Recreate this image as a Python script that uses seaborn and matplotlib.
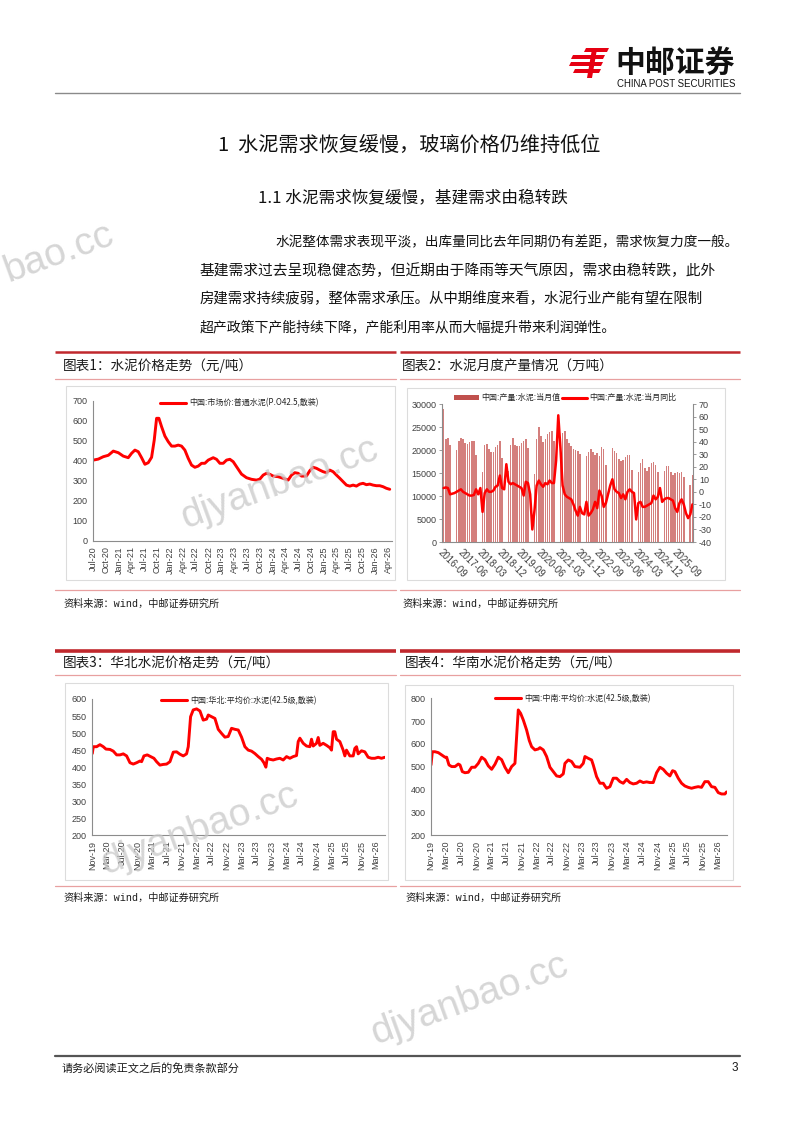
import numpy as np
import pandas as pd
import matplotlib
matplotlib.use("Agg")
import matplotlib.pyplot as plt
import matplotlib.dates as mdates
from matplotlib.lines import Line2D
from matplotlib.patches import Patch, Polygon, Rectangle
import seaborn as sns

# ------------------------------------------------------------------ data
# Chart 1: national market price, months since 2020-07-01
c1_start = "2020-07-01"
c1_t = [0, 1.17, 2.34, 3.51, 4.68, 5.85, 7.01, 8.18, 8.96, 9.74, 10.52, 11.30, 12.08,
        12.86, 13.64, 14.26, 14.81, 15.35, 15.98, 16.76, 17.54, 18.32, 19.10, 19.88,
        20.65, 21.43, 22.21, 22.99, 23.77, 24.55, 25.33, 26.11, 26.89, 28.06, 28.84,
        29.62, 30.40, 31.18, 31.96, 32.74, 33.52, 34.68, 35.85, 37.02, 38.19, 38.97,
        39.75, 40.53, 41.31, 42.09, 43.26, 44.43, 45.60, 46.38, 47.16, 47.93, 48.71,
        49.88, 50.66, 51.44, 52.22, 53.00, 53.78, 54.56, 55.34, 56.12, 56.90, 57.68,
        58.46, 59.24, 60.02, 60.80, 61.57, 62.35, 63.13, 63.91, 64.69, 65.47, 66.25,
        67.03, 67.81, 68.59, 69.37]
c1_price = [403, 408, 420, 427, 448, 440, 423, 415, 437, 453, 445, 415, 382,
            390, 417, 503, 612, 612, 570, 523, 495, 473, 473, 478,
            473, 453, 412, 378, 367, 373, 387, 387, 403, 415, 407,
            387, 387, 403, 407, 395, 370, 333, 315, 307, 303, 308,
            328, 337, 332, 323, 320, 312, 303, 328, 340, 337, 323,
            323, 350, 367, 362, 353, 345, 340, 353, 345, 328, 312,
            295, 278, 273, 278, 273, 283, 287, 280, 283, 278, 275,
            275, 270, 262, 257]
c1_label = "中国:市场价:普通水泥(P.O42.5,散装)"

# Chart 2: monthly output (万吨) and YoY (%), monthly from 2016-09 (Jan/Feb not published)
nan = np.nan
c2_output = [29000, 22500, 22700, 21000,
             nan, nan, 20000, 22000, 22600, 22300, 21600, 21200, 21800, 22000, 22000, 19000,
             nan, nan, 15300, 21000, 21300, 20300, 19600, 19600, 20600, 21000, 22000, 18200,
             nan, nan, 15500, 21000, 22700, 21000, 20900, 20900, 21500, 21900, 22300, 20500,
             nan, nan, 14700, 22400, 24900, 23000, 21800, 22300, 23500, 24000, 24200, 22000,
             nan, nan, 20300, 23800, 24200, 22500, 21500, 20800, 20300, 20100, 19800, 19100,
             nan, nan, 18600, 19500, 20200, 19500, 19000, 19300, 18800, 20700, 20300, 16800,
             nan, nan, 20500, 19800, 19300, 18000, 17600, 17800, 18500, 19000, 19000, 15600,
             nan, nan, 15300, 17200, 18000, 16000, 15500, 16400, 17100, 17500, 16700, 15300,
             nan, nan, 15500, 16500, 16500, 15300, 14600, 14900, 15300, 15100, 15300, 14200,
             nan, nan, 12400, 14600]
c2_yoy = [3, 3.5, 3, -2, -1.5, -1, 0, 1, 2, 0, -1, -2, -3, -3, -2.5, 2, -2, 3, -16, -1,
          2, 0, 0, 1, 4, 5, 13, 3, 2,
          22, 8, 6, 7, 6, 5, 4, 3, -3, 8, 7, -2, -30, -15, 5, 9, 6, 4, 7, 6, 9, 7, 7, 25,
          61, 35, 5, -2, -4, -5, -6, -10, -15, -19, -12, -17, -18, -8, -19, -17, -14, -8,
          -13, 1, -3, -12, -9, -2, 5, 10, 2, 0, -1, -5, -2, -6, 0, 2, 0,
          -1, -22, -9, -8, -12, -12, -11, -10, -9, -3, -6, -4, 3, -8, -6, -5, -5, -6, -7,
          -13, -16, -9, -6, -10, -17, -21, -18, -10]
c2_ticklabels = ["2016-09", "2017-06", "2018-03", "2018-12", "2019-09", "2020-06", "2021-03",
                 "2021-12", "2022-09", "2023-06", "2024-03", "2024-12", "2025-09"]
c2_labels = ["中国:产量:水泥:当月值", "中国:产量:水泥:当月同比"]

# Chart 3: North China average price, months since 2019-11-01
c3_start = "2019-11-01"
c3_t = [0, 0.27, 1.16, 2.05, 2.94, 3.65, 4.72, 5.61, 6.51, 7.40, 8.29, 9.18, 10.07, 10.96,
        11.85, 12.75, 13.19, 13.81, 14.71, 15.60, 16.49, 17.20, 18.09, 18.98, 19.88, 20.77,
        21.66, 22.55, 23.44, 24.33, 25.22, 25.67, 26.29, 27.00, 27.90, 28.79, 29.68, 30.57,
        31.02, 31.91, 32.80, 33.69, 34.58, 35.47, 36.36, 37.25, 38.15, 39.04, 39.93, 40.82,
        41.71, 42.60, 43.49, 44.39, 45.28, 45.90, 46.43, 46.79, 47.50, 48.40, 49.29, 50.18,
        51.07, 51.96, 52.85, 53.74, 54.63, 55.08, 55.53, 56.42, 57.31, 58.20, 58.64, 59.09,
        59.98, 60.43, 60.87, 61.76, 62.66, 63.55, 63.99, 64.44, 64.88, 65.33, 66.22, 67.11,
        67.56, 68.00, 68.89, 69.79, 70.23, 70.68, 71.12, 72.01, 72.90, 73.80, 74.69, 75.58,
        76.47, 77.36, 78.25]
c3_price = [440, 460, 460, 466, 460, 453, 452, 447, 436, 436, 439, 433, 413, 409,
            413, 418, 416, 433, 436, 431, 426, 416, 406, 408, 409, 416,
            444, 445, 438, 433, 439, 460, 548, 568, 571, 565, 538, 541,
            553, 548, 543, 511, 499, 488, 490, 514, 511, 509, 488, 460,
            450, 447, 440, 431, 423, 413, 400, 426, 423, 421, 424, 426,
            421, 431, 426, 431, 434, 475, 485, 470, 462, 460, 482, 462,
            470, 487, 464, 470, 464, 457, 450, 504, 504, 482, 475, 450,
            433, 450, 433, 433, 455, 460, 439, 448, 445, 429, 426, 426,
            429, 426, 429]
c3_label = "中国:华北:平均价:水泥(42.5级,散装)"

# Chart 4: Central-South China average price, months since 2019-11-01
c4_start = "2019-11-01"
c4_t = [0, 0.35, 1.06, 1.94, 2.83, 3.71, 4.15, 4.77, 5.48, 6.36, 7.24, 7.69, 8.30, 9.01,
        9.89, 10.78, 11.66, 12.54, 13.43, 14.31, 15.19, 16.08, 16.96, 17.84, 18.73, 19.61,
        20.49, 21.38, 22.26, 22.70, 23.14, 23.76, 24.47, 25.35, 26.06, 26.68, 27.56, 28.45,
        28.89, 29.77, 30.65, 31.54, 32.42, 33.30, 34.19, 35.07, 35.51, 36.40, 37.28, 38.16,
        39.49, 40.37, 40.81, 41.70, 42.58, 43.02, 43.90, 44.79, 45.67, 46.11, 46.55, 47.44,
        48.32, 49.20, 50.09, 50.97, 51.86, 52.74, 53.62, 54.51, 55.39, 56.27, 57.16, 58.04,
        58.92, 59.81, 60.69, 61.57, 62.46, 63.34, 64.05, 64.66, 65.55, 66.43, 67.31, 68.20,
        69.08, 69.96, 70.85, 71.73, 72.61, 73.50, 74.38, 75.27, 76.15, 77.03, 77.92, 78.36]
c4_price = [508, 566, 566, 562, 552, 542, 542, 508, 501, 501, 512, 508, 479, 474,
            476, 498, 498, 515, 542, 531, 504, 489, 511, 542, 531, 498,
            474, 501, 515, 632, 749, 734, 705, 661, 615, 588, 574, 578,
            584, 574, 545, 498, 479, 460, 457, 469, 515, 530, 523, 501,
            498, 515, 545, 537, 530, 508, 457, 428, 428, 416, 406, 413,
            450, 450, 435, 428, 445, 431, 425, 428, 438, 431, 434, 431,
            431, 474, 498, 489, 472, 460, 483, 479, 450, 428, 416, 410,
            406, 410, 413, 410, 435, 435, 413, 410, 387, 381, 381, 390]
c4_label = "中国:中南:平均价:水泥(42.5级,散装)"

chart_titles = ["图表1：水泥价格走势（元/吨）", "图表2：水泥月度产量情况（万吨）",
                "图表3：华北水泥价格走势（元/吨）", "图表4：华南水泥价格走势（元/吨）"]
source_text = "资料来源：wind，中邮证券研究所"
heading1 = "1  水泥需求恢复缓慢，玻璃价格仍维持低位"
heading2 = "1.1 水泥需求恢复缓慢，基建需求由稳转跌"
paragraph = ["水泥整体需求表现平淡，出库量同比去年同期仍有差距，需求恢复力度一般。",
             "基建需求过去呈现稳健态势，但近期由于降雨等天气原因，需求由稳转跌，此外",
             "房建需求持续疲弱，整体需求承压。从中期维度来看，水泥行业产能有望在限制",
             "超产政策下产能持续下降，产能利用率从而大幅提升带来利润弹性。"]
footer_text = "请务必阅读正文之后的免责条款部分"
page_no = "3"
watermark = "djyanbao.cc"
watermark_part = "bao.cc"

# ------------------------------------------------------------------ style
sns.set_theme(style="white")
plt.rcParams["font.family"] = ["Liberation Sans", "Noto Sans CJK SC", "DejaVu Sans"]
plt.rcParams["axes.unicode_minus"] = False

RED = "#ff0000"
GREY = "#8c8c8c"
CJK = ["Noto Sans CJK SC", "DejaVu Sans"]

W, H = 800, 1132
fig = plt.figure(figsize=(8, 11.32), dpi=100)


def rect(x0, y0, x1, y1):
    return [x0 / W, 1 - y1 / H, (x1 - x0) / W, (y1 - y0) / H]


def to_dates(start, t):
    return pd.Timestamp(start) + pd.to_timedelta(np.asarray(t) * 30.4375, unit="D")


def style_axis(ax, spines=("left", "bottom")):
    for s in ["left", "right", "top", "bottom"]:
        ax.spines[s].set_visible(s in spines)
        ax.spines[s].set_color(GREY)
        ax.spines[s].set_linewidth(0.8)
    ax.tick_params(axis="both", which="major", direction="out", length=2.5, width=0.6,
                   color=GREY, labelsize=6.5, labelcolor="#404040", pad=1.5)
    ax.set_xlabel("")
    ax.set_ylabel("")
    ax.grid(False)
    ax.set_facecolor("none")


def price_chart(box, start, t, vals, label, ylim, ystep, months, xmax, leg_xy):
    ax = fig.add_axes(rect(*box))
    df = pd.DataFrame({"date": to_dates(start, t), "price": vals})
    sns.lineplot(data=df, x="date", y="price", ax=ax, color=RED, linewidth=2.1)
    ax.set_ylim(*ylim)
    ax.set_yticks(np.arange(ylim[0], ylim[1] + 1, ystep))
    ax.set_xlim(pd.Timestamp(start), to_dates(start, [xmax])[0])
    ax.xaxis.set_major_locator(mdates.MonthLocator(bymonth=months))
    ax.xaxis.set_major_formatter(mdates.DateFormatter("%b-%y"))
    style_axis(ax)
    ax.tick_params(axis="x", labelrotation=90)
    ax.legend([Line2D([0], [0], color=RED, lw=2.2)], [label], loc="center",
              bbox_to_anchor=leg_xy, frameon=False, handlelength=3.2,
              handletextpad=0.4, prop={"family": CJK, "size": 5.8})
    return ax


# Chart 1
price_chart((93.3, 400.7, 392, 540.7), c1_start, c1_t, c1_price, c1_label,
            (0, 700), 100, [1, 4, 7, 10], 69.9, (0.49, 0.985))

# Chart 3
price_chart((92.3, 699, 385, 835.3), c3_start, c3_t, c3_price, c3_label,
            (200, 600), 50, [3, 7, 11], 78.3, (0.50, 0.99))

# Chart 4
price_chart((431, 698.3, 726.7, 835.3), c4_start, c4_t, c4_price, c4_label,
            (200, 800), 100, [3, 7, 11], 78.4, (0.48, 1.0))

# Chart 2
n2 = len(c2_output)
ax2 = fig.add_axes(rect(442.3, 404, 693.3, 542))
df2 = pd.DataFrame({"m": np.arange(n2), "out": c2_output}).dropna()
sns.barplot(data=df2, x="m", y="out", order=list(range(n2)), color="#d47f7d",
            saturation=1, width=0.72, errorbar=None, linewidth=0, ax=ax2)
ax2.set_ylim(0, 30000)
ax2.set_yticks(np.arange(0, 30001, 5000))
ax2r = ax2.twinx()
df2b = pd.DataFrame({"m": np.arange(len(c2_yoy)), "yoy": c2_yoy})
sns.lineplot(data=df2b, x="m", y="yoy", ax=ax2r, color=RED, linewidth=1.8)
ax2r.set_ylim(-40, 70)
ax2r.set_yticks(np.arange(-40, 71, 10))
for a in (ax2, ax2r):
    a.set_xlim(-0.6, n2 - 0.6)
style_axis(ax2)
style_axis(ax2r, spines=("right",))
ax2.set_xticks(np.arange(0, 9 * len(c2_ticklabels), 9))
ax2.set_xticklabels(c2_ticklabels, rotation=-45, ha="left", va="top",
                    rotation_mode="anchor", fontsize=7)
ax2r.legend([Patch(facecolor="#c0504d", edgecolor="none"),
             Line2D([0], [0], color=RED, lw=2.2)], c2_labels,
            loc="center", bbox_to_anchor=(0.49, 1.045), ncol=2, frameon=False,
            handlelength=3.0, handleheight=0.6, handletextpad=0.3, columnspacing=0.3,
            prop={"family": CJK, "size": 5.8})

# ------------------------------------------------------------------ page overlay
page = fig.add_axes([0, 0, 1, 1], zorder=10)
page.set_xlim(0, W)
page.set_ylim(H, 0)
page.axis("off")
page.patch.set_alpha(0)

# header logo
LOGO = "#e60012"
for pts in [[(586, 48), (609, 48), (607, 52), (584, 52)],
            [(573, 55), (605, 55), (603, 59), (571, 59)],
            [(571, 62), (603, 62), (601, 66), (569, 66)],
            [(575, 69), (601, 69), (599, 73), (573, 73)],
            [(592, 49), (597, 49), (592, 78), (587, 78)]]:
    page.add_patch(Polygon(pts, closed=True, facecolor=LOGO, edgecolor="none"))
page.text(615, 64, "中邮证券", fontsize=21.5, fontweight="bold", color="#111111",
          family=CJK, va="center", ha="left")
page.text(617, 84, "CHINA POST SECURITIES", fontsize=6.9, color="#111111",
          family=["Liberation Sans"], va="center", ha="left")
page.plot([55, 740], [93, 93], color="#8a8a8a", lw=1.0)

# headings and paragraph
page.text(218, 145, heading1, fontsize=14.5, color="#111111", family=CJK,
          va="center", ha="left")
page.text(258, 198, heading2, fontsize=12, color="#111111", family=CJK,
          va="center", ha="left")
para_x = [275, 200, 200, 200]
para_y = [242, 271, 299, 327]
para_fs = [9.8, 10.6, 10.4, 10.0]
for s, x, y, fs in zip(paragraph, para_x, para_y, para_fs):
    page.text(x, y, s, fontsize=fs, color="#111111", family=CJK, va="center", ha="left")

# chart section rules, titles, sources, frames
sections = [((55, 396), 352, 379, 590, 366, 604, 63, 1.8),
            ((400, 740), 352, 379, 590, 366, 604, 402, 1.8),
            ((55, 396), 651, 675, 886, 663, 898, 63, 2.6),
            ((400, 740), 651, 675, 886, 663, 898, 405, 2.6)]
for i, ((xa, xb), ytop, ytitle_line, ybot, ytitle, ysrc, xt, lwtop) in enumerate(sections):
    page.plot([xa, xb], [ytop, ytop], color="#c0282d", lw=lwtop, solid_capstyle="butt")
    page.plot([xa, xb], [ytitle_line, ytitle_line], color="#e8a0a0", lw=0.9)
    page.plot([xa, xb], [ybot, ybot], color="#e8a0a0", lw=0.9)
    page.text(xt, ytitle, chart_titles[i], fontsize=9.8, color="#1a1a1a", family=CJK,
              va="center", ha="left")
    page.text(xt, ysrc, source_text, fontsize=7.3, color="#1a1a1a",
              family=["Liberation Mono", "Noto Sans CJK SC"], va="center", ha="left")

for (x0, y0, x1, y1) in [(66, 386, 395, 580), (407, 388, 725, 580),
                         (65, 683, 388, 880), (405, 685, 733, 880)]:
    page.add_patch(Rectangle((x0, y0), x1 - x0, y1 - y0, fill=False,
                             edgecolor="#dcdcdc", lw=0.8))

# watermarks
wm = dict(fontsize=28, color="#c8c8c8", alpha=0.75, family=["Liberation Sans"],
          rotation=20)
page.text(8, 282, watermark_part, ha="left", va="baseline", rotation_mode="anchor", **wm)
page.text(280, 484, watermark, ha="center", va="center", **wm)
page.text(200, 830, watermark, ha="center", va="center", **wm)
page.text(470, 1000, watermark, ha="center", va="center", **wm)

# footer
page.plot([55, 740], [1056, 1056], color="#555555", lw=1.6)
page.text(62, 1068, footer_text, fontsize=8, color="#1a1a1a", family=CJK,
          va="center", ha="left")
page.text(738, 1068, page_no, fontsize=8.5, color="#1a1a1a", va="center", ha="right")

fig.savefig("out.png", dpi=100, facecolor="white")
